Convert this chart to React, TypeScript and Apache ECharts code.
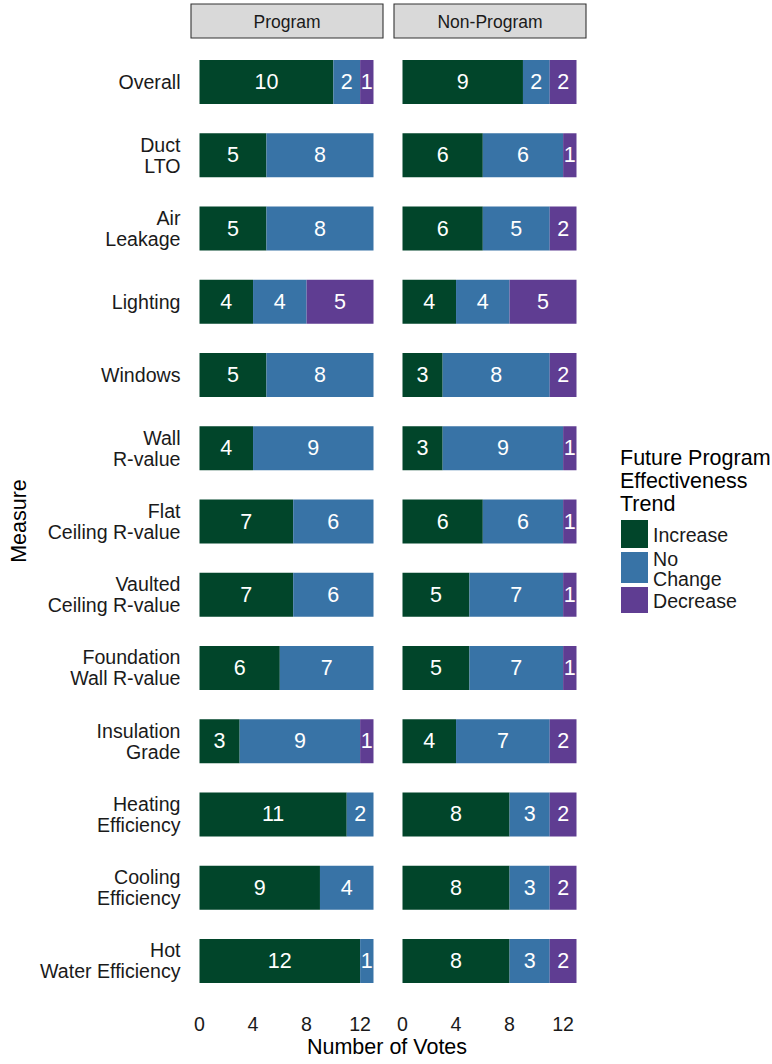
import React, { useEffect, useRef } from "react";
import * as echarts from "echarts";

const measures = [
  "Overall",
  "Duct\nLTO",
  "Air\nLeakage",
  "Lighting",
  "Windows",
  "Wall\nR-value",
  "Flat\nCeiling R-value",
  "Vaulted\nCeiling R-value",
  "Foundation\nWall R-value",
  "Insulation\nGrade",
  "Heating\nEfficiency",
  "Cooling\nEfficiency",
  "Hot\nWater Efficiency",
];
const trends = ["Increase", "No Change", "Decrease"];
const trendLabels = ["Increase", "No\nChange", "Decrease"];
const facets = ["Program", "Non-Program"];
const programIncrease = [10, 5, 5, 4, 5, 4, 7, 7, 6, 3, 11, 9, 12];
const programNoChange = [2, 8, 8, 4, 8, 9, 6, 6, 7, 9, 2, 4, 1];
const programDecrease = [1, 0, 0, 5, 0, 0, 0, 0, 0, 1, 0, 0, 0];
const nonProgramIncrease = [9, 6, 6, 4, 3, 3, 6, 5, 5, 4, 8, 8, 8];
const nonProgramNoChange = [2, 6, 5, 4, 8, 9, 6, 7, 7, 7, 3, 3, 3];
const nonProgramDecrease = [2, 1, 2, 5, 2, 1, 1, 1, 1, 2, 2, 2, 2];
const xTicks = [0, 4, 8, 12];
const colors = ["#01452a", "#3873a6", "#5f3d92"];

const FONT = "'Liberation Sans', Arial, sans-serif";
const AX = 19.6;
const TT = 21.5;
const ST = 17.5;

export default function App() {
  const ref = useRef<HTMLDivElement>(null);
  useEffect(() => {
    if (!ref.current) return;
    const chart = echarts.init(ref.current, null, { renderer: "svg" });
    const facetData = [
      [programIncrease, programNoChange, programDecrease],
      [nonProgramIncrease, nonProgramNoChange, nonProgramDecrease],
    ];
    const gridLefts = [199.5, 402.5];
    const grids = gridLefts.map((l) => ({
      left: l,
      width: 174,
      top: 45.4,
      height: 952.2,
      containLabel: false,
    }));
    const xAxes = gridLefts.map((_, i) => ({
      type: "value",
      gridIndex: i,
      min: 0,
      max: 13,
      interval: 4,
      axisLine: { show: false },
      axisTick: { show: false },
      splitLine: { show: false },
      axisLabel: {
        margin: 16,
        fontSize: AX,
        color: "#1a1a1a",
        fontFamily: FONT,
        formatter: (v: number) => (xTicks.includes(v) ? String(v) : ""),
      },
    }));
    const yAxes = gridLefts.map((_, i) => ({
      type: "category",
      gridIndex: i,
      data: measures,
      inverse: true,
      axisLine: { show: false },
      axisTick: { show: false },
      splitLine: { show: false },
      axisLabel: {
        show: i === 0,
        margin: 19,
        fontSize: AX,
        lineHeight: 21,
        color: "#1a1a1a",
        fontFamily: FONT,
        align: "right",
      },
    }));
    const series: any[] = [];
    facetData.forEach((sets, fi) => {
      sets.forEach((vals, ti) => {
        series.push({
          type: "bar",
          name: trends[ti],
          xAxisIndex: fi,
          yAxisIndex: fi,
          stack: "s" + fi,
          barWidth: 44,
          data: vals,
          itemStyle: { color: colors[ti] },
          label: {
            show: true,
            position: "inside",
            color: "#ffffff",
            fontSize: TT,
            fontFamily: FONT,
            formatter: (p: any) => (p.value > 0 ? String(p.value) : ""),
          },
        });
      });
    });

    const stripBoxes = [
      { x: 191, w: 192, label: facets[0] },
      { x: 394, w: 192, label: facets[1] },
    ];
    const graphic: any[] = [];
    stripBoxes.forEach((s) => {
      graphic.push({
        type: "rect",
        shape: { x: s.x, y: 4, width: s.w, height: 34 },
        style: { fill: "#d9d9d9", stroke: "#333333", lineWidth: 1.1 },
      });
      graphic.push({
        type: "text",
        x: s.x + s.w / 2,
        y: 21.5,
        style: {
          text: s.label,
          fill: "#1a1a1a",
          font: `${ST}px ${FONT}`,
          align: "center",
          verticalAlign: "middle",
        },
      });
    });
    graphic.push({
      type: "text",
      x: 387,
      y: 1047,
      style: {
        text: "Number of Votes",
        fill: "#000000",
        font: `${TT}px ${FONT}`,
        align: "center",
        verticalAlign: "middle",
      },
    });
    graphic.push({
      type: "text",
      x: 19,
      y: 521,
      rotation: Math.PI / 2,
      style: {
        text: "Measure",
        fill: "#000000",
        font: `${TT}px ${FONT}`,
        align: "center",
        verticalAlign: "middle",
      },
    });
    graphic.push({
      type: "text",
      x: 620,
      y: 446,
      style: {
        text: "Future Program\nEffectiveness\nTrend",
        fill: "#000000",
        font: `${TT}px ${FONT}`,
        lineHeight: 23,
        align: "left",
        verticalAlign: "top",
      },
    });
    const keys = [
      { y: 520, h: 28 },
      { y: 552, h: 31 },
      { y: 587, h: 26 },
    ];
    keys.forEach((k, i) => {
      graphic.push({
        type: "rect",
        shape: { x: 621, y: k.y, width: 27, height: k.h },
        style: { fill: colors[i] },
      });
      graphic.push({
        type: "text",
        x: 653,
        y: k.y + k.h / 2 + 1,
        style: {
          text: trendLabels[i],
          fill: "#1a1a1a",
          font: `${AX}px ${FONT}`,
          lineHeight: 20,
          align: "left",
          verticalAlign: "middle",
        },
      });
    });

    chart.setOption({
      animation: false,
      backgroundColor: "#ffffff",
      textStyle: { fontFamily: FONT },
      grid: grids,
      xAxis: xAxes,
      yAxis: yAxes,
      series,
      graphic,
    });
    return () => chart.dispose();
  }, []);
  return (
    <div
      ref={ref}
      style={{ position: "absolute", left: 0, top: 0, width: 772, height: 1064 }}
    />
  );
}
